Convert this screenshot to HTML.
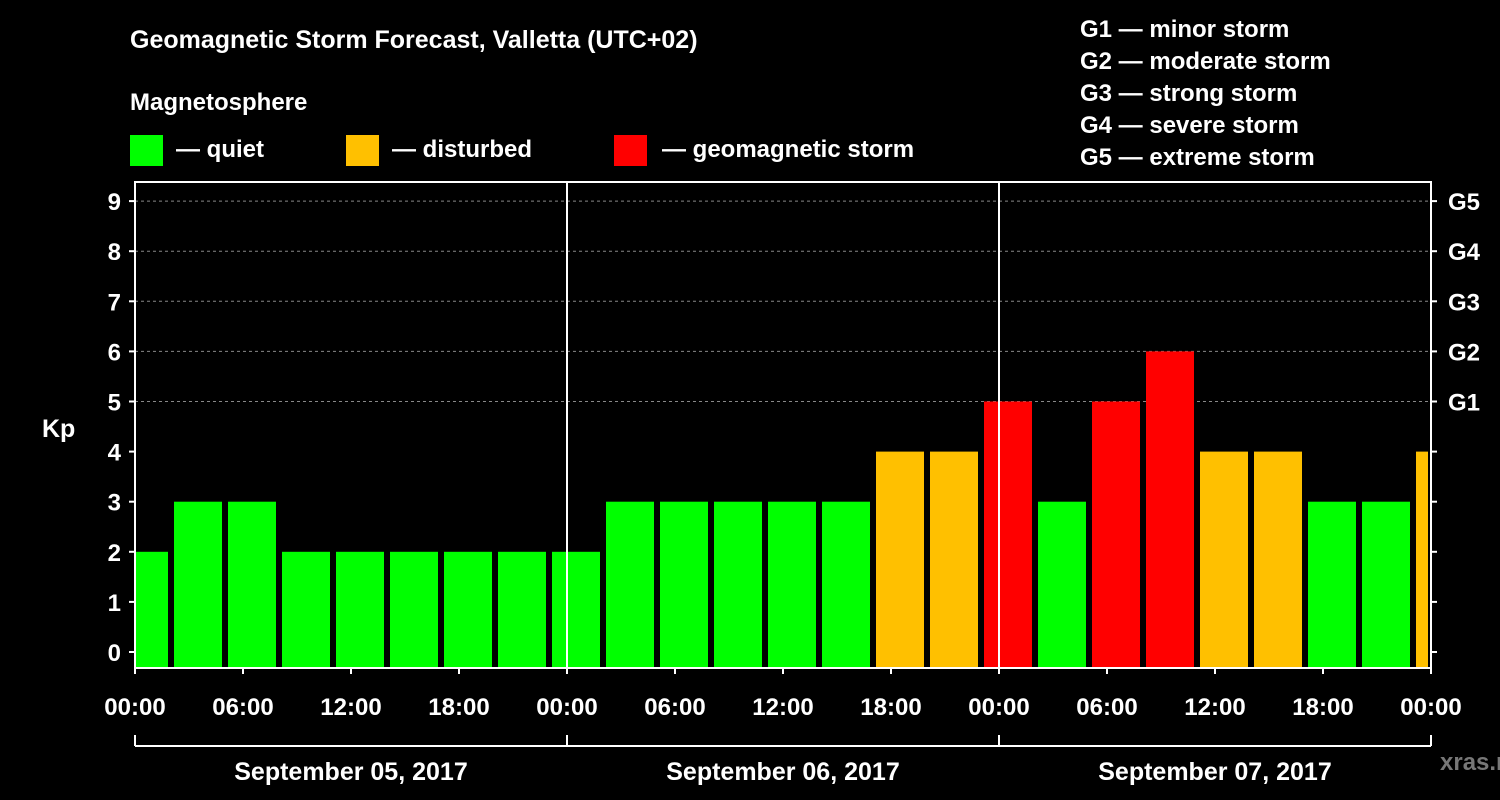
<!DOCTYPE html>
<html><head><meta charset="utf-8"><style>
body{margin:0;background:#000;width:1500px;height:800px;overflow:hidden}
svg{display:block;font-family:"Liberation Sans",Arial,sans-serif;font-weight:bold}
</style></head><body>
<svg id="c" width="1500" height="800" xmlns="http://www.w3.org/2000/svg">
<rect width="1500" height="800" fill="#000"/>
<text x="130" y="48" fill="#fff" font-size="25">Geomagnetic Storm Forecast, Valletta (UTC+02)</text>
<text x="130" y="110" fill="#fff" font-size="24">Magnetosphere</text>
<g><rect x="130" y="135" width="33" height="31" fill="#00ff00"/><text x="176" y="157" fill="#fff" font-size="24">— quiet</text></g>
<g><rect x="346" y="135" width="33" height="31" fill="#ffc000"/><text x="392" y="157" fill="#fff" font-size="24">— disturbed</text></g>
<g><rect x="614" y="135" width="33" height="31" fill="#ff0000"/><text x="662" y="157" fill="#fff" font-size="24">— geomagnetic storm</text></g>
<g fill="#fff" font-size="24">
<text x="1080" y="37">G1 — minor storm</text><text x="1080" y="69">G2 — moderate storm</text><text x="1080" y="101">G3 — strong storm</text><text x="1080" y="133">G4 — severe storm</text><text x="1080" y="165">G5 — extreme storm</text></g>
<text x="42" y="437" fill="#fff" font-size="25">Kp</text>
<text x="1440" y="770" fill="#777" font-size="24">xras.ru</text>
<g id="plot"></g>
</svg>
<script>
const kpValues=[2,3,3,2,2,2,2,2,2,3,3,3,3,3,4,4,5,3,5,6,4,4,3,3,4];
const startHour=-1; // bars start at -01:00 local, 3h each
const yTicks=[0,1,2,3,4,5,6,7,8,9];
const gLabels=["G1","G2","G3","G4","G5"];
const xTickLabels=["00:00","06:00","12:00","18:00","00:00","06:00","12:00","18:00","00:00","06:00","12:00","18:00","00:00"];
const dateLabels=["September 05, 2017","September 06, 2017","September 07, 2017"];
const NS="http://www.w3.org/2000/svg";
const L=135,R=1431,T=182,B=668;
const x=h=>L+h*18; const y=k=>652-k*50.1;
const p=document.getElementById('plot');
function mk(t,a){const e=document.createElementNS(NS,t);for(const k in a)e.setAttribute(k,a[k]);p.appendChild(e);return e;}
// grid
yTicks.forEach(k=>{if(k>=5){const g=mk('line',{x1:L,x2:R,y1:y(k),y2:y(k),stroke:'#888','stroke-dasharray':'3,3'});

}});
// bars
kpValues.forEach((v,i)=>{let h0=startHour+i*3;let x0=x(h0)+3,x1=x(h0+3)-3;x0=Math.max(x0,L);x1=Math.min(x1,R-3);
const c=v>=5?'#ff0000':v>=4?'#ffc000':'#00ff00';
const r=mk('rect',{x:x0,y:y(v),width:x1-x0,height:B-y(v),fill:c});

});
// day separators
[1,2].forEach(d=>{const l=mk('line',{x1:x(d*24),x2:x(d*24),y1:T,y2:B,stroke:'#fff','stroke-width':2});

});
// frame
const f=mk('rect',{x:L,y:T,width:R-L,height:B-T,fill:'none',stroke:'#fff','stroke-width':2});


// y ticks
yTicks.forEach(k=>{mk('line',{x1:L-6,x2:L,y1:y(k),y2:y(k),stroke:'#fff','stroke-width':2});mk('line',{x1:R,x2:R+6,y1:y(k),y2:y(k),stroke:'#fff','stroke-width':2});
const t=mk('text',{x:L-14,y:y(k)+9,fill:'#fff','font-size':24,'text-anchor':'end'});t.textContent=k;

});
gLabels.forEach((g,i)=>{const t=mk('text',{x:R+17,y:y(5+i)+9,fill:'#fff','font-size':24});t.textContent=g;

});
// x ticks
xTickLabels.forEach((s,i)=>{const xx=x(i*6);mk('line',{x1:xx,x2:xx,y1:B,y2:B+6,stroke:'#fff','stroke-width':2});
const t=mk('text',{x:xx,y:715,fill:'#fff','font-size':24,'text-anchor':'middle'});t.textContent=s;

});
// date bracket
mk('line',{x1:L,x2:R,y1:746,y2:746,stroke:'#fff','stroke-width':2});
[0,1,2,3].forEach(d=>mk('line',{x1:x(d*24),x2:x(d*24),y1:735,y2:746,stroke:'#fff','stroke-width':2}));
dateLabels.forEach((s,i)=>{const t=mk('text',{x:x(i*24+12),y:780,fill:'#fff','font-size':25,'text-anchor':'middle'});t.textContent=s;

});
</script>
</body></html>
